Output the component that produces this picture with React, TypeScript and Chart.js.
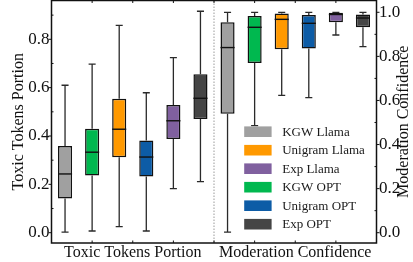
import React, { useEffect, useRef } from 'react';
import { Chart, registerables } from 'chart.js';

Chart.register(...registerables);

const groups = ['Toxic Tokens Portion', 'Moderation Confidence'];
const series = ['KGW Llama', 'KGW OPT', 'Unigram Llama', 'Unigram OPT', 'Exp Llama', 'Exp OPT'];
const colors = ['#a0a0a0', '#00b84f', '#ff9900', '#0d5ca6', '#80609f', '#454545'];
const legendOrder = ['KGW Llama', 'Unigram Llama', 'Exp Llama', 'KGW OPT', 'Unigram OPT', 'Exp OPT'];

// [min, q1, median, q3, max]
const toxicStats = [
  [0.002, 0.141, 0.243, 0.359, 0.61],
  [0.007, 0.237, 0.333, 0.43, 0.697],
  [0.025, 0.312, 0.428, 0.554, 0.858],
  [0.007, 0.232, 0.313, 0.381, 0.579],
  [0.182, 0.388, 0.463, 0.528, 0.724],
  [0.211, 0.47, 0.556, 0.655, 0.916],
];
const modStats = [
  [0.003, 0.54, 0.84, 0.955, 1.0],
  [0.486, 0.77, 0.932, 0.983, 1.0],
  [0.623, 0.832, 0.968, 0.995, 1.0],
  [0.613, 0.836, 0.95, 0.988, 1.0],
  [0.897, 0.955, 0.99, 0.998, 1.0],
  [0.844, 0.932, 0.974, 0.99, 1.0],
];
const leftTicks = [0, 0.2, 0.4, 0.6, 0.8];
const rightTicks = [0, 0.2, 0.4, 0.6, 0.8, 1.0];
const leftMinor = [0.1, 0.3, 0.5, 0.7, 0.9];
const rightMinor = [0.1, 0.3, 0.5, 0.7, 0.9];
const xMinor = [-0.25, 0, 0.25, 0.5, 0.75, 1, 1.25];

const SERIF = "'Liberation Serif', 'Times New Roman', Times, serif";

const boxPlugin = {
  id: 'boxExtras',
  beforeDatasetsDraw(chart: any) {
    const ctx = chart.ctx;
    ctx.save();
    chart.data.datasets.forEach((ds: any, di: number) => {
      const meta = chart.getDatasetMeta(di);
      const ys = chart.scales[ds.yAxisID];
      meta.data.forEach((el: any, j: number) => {
        const st = ds.stats[j];
        if (!st) return;
        const x = el.x;
        const cap = el.width / 2;
        ctx.strokeStyle = '#2a2a2a';
        ctx.lineWidth = 1.3;
        ctx.beginPath();
        ctx.moveTo(x, ys.getPixelForValue(st[0]));
        ctx.lineTo(x, ys.getPixelForValue(st[1]));
        ctx.moveTo(x, ys.getPixelForValue(st[3]));
        ctx.lineTo(x, ys.getPixelForValue(st[4]));
        ctx.moveTo(x - cap / 2, ys.getPixelForValue(st[0]));
        ctx.lineTo(x + cap / 2, ys.getPixelForValue(st[0]));
        ctx.moveTo(x - cap / 2, ys.getPixelForValue(st[4]));
        ctx.lineTo(x + cap / 2, ys.getPixelForValue(st[4]));
        ctx.stroke();
      });
    });
    ctx.restore();
  },
  afterDatasetsDraw(chart: any) {
    const ctx = chart.ctx;
    ctx.save();
    chart.data.datasets.forEach((ds: any, di: number) => {
      const meta = chart.getDatasetMeta(di);
      const ys = chart.scales[ds.yAxisID];
      meta.data.forEach((el: any, j: number) => {
        const st = ds.stats[j];
        if (!st) return;
        const y = ys.getPixelForValue(st[2]);
        ctx.strokeStyle = '#111';
        ctx.lineWidth = 1.4;
        ctx.beginPath();
        ctx.moveTo(el.x - el.width / 2, y);
        ctx.lineTo(el.x + el.width / 2, y);
        ctx.stroke();
      });
    });
    ctx.restore();
  },
  afterDraw(chart: any) {
    const ctx = chart.ctx;
    const { left, right, top, bottom } = chart.chartArea;
    const yl = chart.scales.y;
    const yr = chart.scales.y1;
    const xs = chart.scales.x;
    ctx.save();
    // divider
    const dx = xs.getPixelForValue(0.5);
    ctx.strokeStyle = '#9a9a9a';
    ctx.lineWidth = 1;
    ctx.setLineDash([1.5, 1.5]);
    ctx.beginPath();
    ctx.moveTo(dx, top);
    ctx.lineTo(dx, bottom);
    ctx.stroke();
    ctx.setLineDash([]);
    // frame
    ctx.strokeStyle = '#111';
    ctx.lineWidth = 1.5;
    ctx.strokeRect(left, top, right - left, bottom - top);
    // ticks
    ctx.lineWidth = 1;
    ctx.beginPath();
    leftTicks.forEach((v) => {
      const y = yl.getPixelForValue(v);
      ctx.moveTo(left - 3, y);
      ctx.lineTo(left, y);
    });
    leftMinor.forEach((v) => {
      const y = yl.getPixelForValue(v);
      ctx.moveTo(left, y);
      ctx.lineTo(left + 2, y);
    });
    rightTicks.forEach((v) => {
      const y = yr.getPixelForValue(v);
      ctx.moveTo(right, y);
      ctx.lineTo(right + 3, y);
    });
    rightMinor.forEach((v) => {
      const y = yr.getPixelForValue(v);
      ctx.moveTo(right, y);
      ctx.lineTo(right - 2, y);
    });
    xMinor.forEach((v) => {
      const x = xs.getPixelForValue(v);
      ctx.moveTo(x, bottom);
      ctx.lineTo(x, bottom - 2.5);
      ctx.moveTo(x, top);
      ctx.lineTo(x, top + 2.5);
    });
    ctx.stroke();
    // axis titles
    ctx.fillStyle = '#111';
    ctx.font = `16px ${SERIF}`;
    ctx.textAlign = 'center';
    ctx.textBaseline = 'alphabetic';
    const cy = (top + bottom) / 2;
    ctx.save();
    ctx.translate(22.5, cy);
    ctx.rotate(-Math.PI / 2);
    ctx.fillText('Toxic Tokens Portion', 0, 0);
    ctx.restore();
    ctx.save();
    ctx.translate(407.5, cy);
    ctx.rotate(-Math.PI / 2);
    ctx.fillText('Moderation Confidence', 0, 0);
    ctx.restore();
    // legend
    ctx.font = `13px ${SERIF}`;
    ctx.textAlign = 'left';
    ctx.textBaseline = 'middle';
    const lx = right - 132.3;
    const ly0 = bottom - 111.3;
    legendOrder.forEach((name, k) => {
      const idx = series.indexOf(name);
      const ry = ly0 + k * 18.5;
      ctx.fillStyle = colors[idx];
      ctx.fillRect(lx, ry - 5.3, 27.4, 10.6);
      ctx.fillStyle = '#1a1a1a';
      ctx.fillText(name, lx + 38, ry + 0.5);
    });
    ctx.restore();
  },
};

const noPad = (s: any) => {
  s.paddingTop = 0;
  s.paddingBottom = 0;
  s.paddingLeft = 0;
  s.paddingRight = 0;
};

export default function App() {
  const ref = useRef<HTMLCanvasElement>(null);
  useEffect(() => {
    if (!ref.current) return;
    const datasets: any[] = [];
    series.forEach((name, i) => {
      const s = toxicStats[i];
      datasets.push({
        label: name,
        data: [[s[1], s[3]], null],
        stats: [s, null],
        yAxisID: 'y',
        backgroundColor: colors[i],
        borderColor: '#111',
        borderWidth: 1.5,
        borderSkipped: false,
        barPercentage: 0.52,
        categoryPercentage: 1,
        skipNull: true,
      });
    });
    series.forEach((name, i) => {
      const s = modStats[i];
      datasets.push({
        label: name,
        data: [null, [s[1], s[3]]],
        stats: [null, s],
        yAxisID: 'y1',
        backgroundColor: colors[i],
        borderColor: '#111',
        borderWidth: 1.5,
        borderSkipped: false,
        barPercentage: 0.52,
        categoryPercentage: 1,
        skipNull: true,
      });
    });
    const chart = new Chart(ref.current, {
      type: 'bar',
      data: { labels: groups, datasets },
      plugins: [boxPlugin],
      options: {
        animation: false,
        responsive: false,
        events: [],
        layout: { padding: { top: 0.5, left: 0, right: 0, bottom: 0 } },
        plugins: { legend: { display: false }, tooltip: { enabled: false } },
        scales: {
          x: {
            type: 'category',
            offset: true,
            stacked: false,
            grid: { display: false, drawTicks: false },
            border: { display: false },
            ticks: { color: '#111', font: { family: SERIF, size: 16 }, padding: 0, maxRotation: 0 },
            afterFit: (s: any) => { s.height = 19; noPad(s); },
          },
          y: {
            type: 'linear',
            position: 'left',
            min: -0.0426,
            max: 0.9605,
            stacked: false,
            grid: { display: false, drawTicks: false },
            border: { display: false },
            ticks: {
              stepSize: 0.2,
              includeBounds: false,
              color: '#111',
              font: { family: SERIF, size: 17 },
              padding: 2,
              callback: (v: any) => Number(v).toFixed(1),
            },
            afterBuildTicks: (s: any) => { s.ticks = leftTicks.map((v) => ({ value: v })); },
            afterFit: (s: any) => { s.width = 51.5; noPad(s); },
          },
          y1: {
            type: 'linear',
            position: 'right',
            min: -0.0467,
            max: 1.0535,
            stacked: false,
            grid: { display: false, drawTicks: false },
            border: { display: false },
            ticks: {
              stepSize: 0.2,
              includeBounds: false,
              color: '#111',
              font: { family: SERIF, size: 17 },
              padding: 2.5,
              callback: (v: any) => Number(v).toFixed(1),
            },
            afterBuildTicks: (s: any) => { s.ticks = rightTicks.map((v) => ({ value: v })); },
            afterFit: (s: any) => { s.width = 36.5; noPad(s); },
          },
        },
      } as any,
    });
    return () => chart.destroy();
  }, []);
  return (
    <div style={{ position: 'absolute', left: 0, top: 0, width: 413, height: 262, background: '#fff' }}>
      <canvas ref={ref} width={413} height={262} style={{ width: 413, height: 262, display: 'block' }} />
    </div>
  );
}
